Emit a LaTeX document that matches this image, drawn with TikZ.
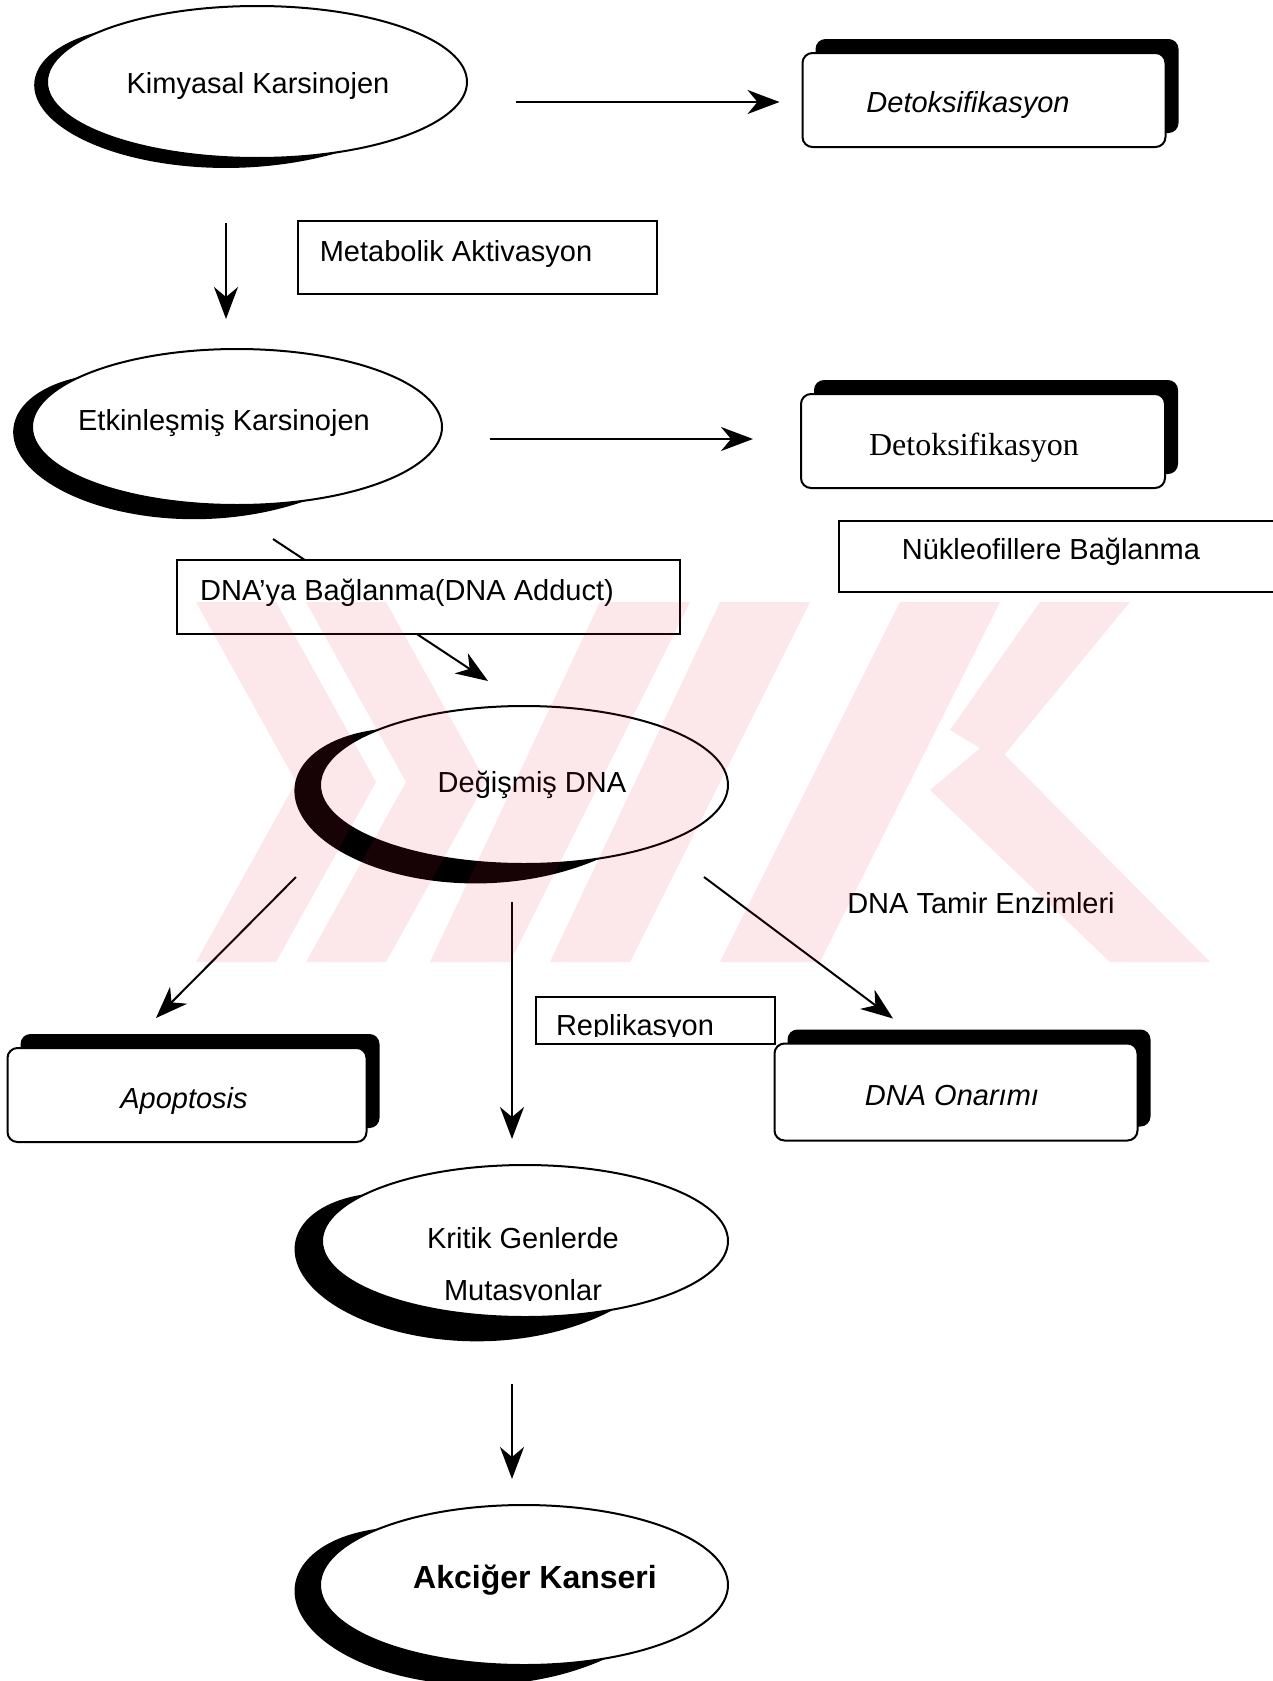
\documentclass[tikz,border=0pt]{standalone}
\usepackage{fontspec}
\setmainfont{Liberation Sans}
\newfontfamily\serifft{Liberation Serif}
\usetikzlibrary{arrows.meta,shadows,calc,shapes.geometric}
\definecolor{wmred}{RGB}{230,30,60}
\begin{document}
\begin{tikzpicture}[x=0.5pt,y=-0.5pt,
  declare function={gth(\u)=sin(\u)*(1.5-0.5*sin(\u));},
  ell/.style={draw,line width=1pt,fill=white,ellipse,inner sep=0pt},
  shbox/.style={draw,line width=1pt,fill=white,rounded corners=5pt,inner sep=0pt,
    drop shadow={shadow xshift=6.5pt,shadow yshift=7pt,fill=black,opacity=1}},
  plainbox/.style={draw,line width=0.9pt,fill=white,inner sep=0pt},
  lbl/.style={font=\fontsize{14.5}{17}\selectfont,anchor=base,inner sep=0pt},
  arr/.style={-{Stealth[length=16pt,width=12pt,inset=5pt]},line width=1pt},
  shade/.style={fill=black}]
\useasboundingbox (0,0) rectangle (1273,1681);

% ---------- ellipses (crescent shadows + white ellipses)
\fill[shade] plot[domain=66:222,samples=100,variable=\t]
  ({257+(210+15*gth((\t-66)*1.15385))*cos(\t)},
   {82+(76+15*gth((\t-66)*1.15385))*sin(\t)}) -- cycle;
\node[ell,minimum width=210pt,minimum height=76pt] (e1) at (257,82) {};
\fill[shade] plot[domain=70:220,samples=100,variable=\t]
  ({237+(205+22*gth((\t-70)*1.2))*cos(\t)},
   {427+(78+22*gth((\t-70)*1.2))*sin(\t)}) -- cycle;
\node[ell,minimum width=205pt,minimum height=78pt] (e2) at (237,427) {};
\fill[shade] plot[domain=68:225,samples=100,variable=\t]
  ({524+(204+29*gth((\t-68)*1.14650))*cos(\t)},
   {785+(79+29*gth((\t-68)*1.14650))*sin(\t)}) -- cycle;
\node[ell,minimum width=204pt,minimum height=79pt] (e3) at (524,785) {};
\fill[shade] plot[domain=64:218,samples=100,variable=\t]
  ({525+(203+33*gth((\t-64)*1.16883))*cos(\t)},
   {1241+(76+33*gth((\t-64)*1.16883))*sin(\t)}) -- cycle;
\node[ell,minimum width=203pt,minimum height=76pt] (e4) at (525,1241) {};
\fill[shade] plot[domain=66:225,samples=100,variable=\t]
  ({524+(204+29*gth((\t-66)*1.13208))*cos(\t)},
   {1585+(80+29*gth((\t-66)*1.13208))*sin(\t)}) -- cycle;
\node[ell,minimum width=204pt,minimum height=80pt] (e5) at (524,1585) {};

% ---------- shadowed boxes
\node[shbox,minimum width=181.5pt,minimum height=47pt] (d1) at (984,100) {};
\node[shbox,minimum width=182pt,minimum height=47pt] (d2) at (983,441) {};
\node[shbox,minimum width=179.5pt,minimum height=47pt] (ap) at (187,1095) {};
\node[shbox,minimum width=181.5pt,minimum height=48.5pt] (on) at (956,1092) {};

% ---------- connectors
\draw[arr] ($(e1.east)+(48,20)$) -- ($(d1.west)+(-22,2)$);
\draw[arr] ($(e1.south)+(-31,64)$) -- ($(e2.north)+(-11,-29)$);
\draw[arr] ($(e2.east)+(47,12)$) -- ($(d2.west)+(-47,-2)$);
\draw[arr] ($(e2.south)+(36,33)$) -- ($(e3.north)+(-36,-24)$);
\draw[arr] ($(e3.center)+(-228,92)$) -- ($(ap.north)+(-31,-29)$);
\draw[arr] ($(e3.south)+(-12,37)$) -- ($(e4.north)+(-13,-25)$);
\draw[arr] ($(e3.center)+(180,92)$) -- ($(on.north)+(-63,-24)$);
\draw[arr] ($(e4.south)+(-13,66)$) -- ($(e5.north)+(-12,-25)$);

% ---------- plain boxes
\node[plainbox,minimum width=179.5pt,minimum height=36.5pt] (mb) at (477.5,257.5) {};
\node[plainbox,minimum width=251.5pt,minimum height=37pt] (db) at (428.5,597) {};
\node[plainbox,minimum width=231pt,minimum height=35.5pt] (nb) at (1070,556.5) {};
\node[plainbox,minimum width=119.5pt,minimum height=23.5pt] (rb) at (655.5,1020.5) {};

% ---------- texts
\node[lbl] (t1) at (258,93) {Kimyasal Karsinojen};
\node[lbl,font=\fontsize{14.5}{17}\selectfont\itshape] (t2) at (968,112) {Detoksifikasyon};
\node[lbl] (t3) at (456,261) {Metabolik Aktivasyon};
\node[lbl] (t4) at (224,430) {Etkinleşmiş Karsinojen};
\node[lbl,font=\fontsize{16}{19}\selectfont\serifft] (t5) at (974,455) {Detoksifikasyon};
\node[lbl] (t6) at (1051,559) {Nükleofillere Bağlanma};
\node[lbl] (t7) at (407,600) {DNA’ya Bağlanma(DNA Adduct)};
\node[lbl] (t8) at (532,792) {Değişmiş DNA};
\node[lbl] (t9) at (981,913) {DNA Tamir Enzimleri};
\begin{scope}
  \clip (540,1000) rectangle (772,1036);
  \node[lbl] (t10) at (635,1035) {Replikasyon};
\end{scope}
\node[lbl,font=\fontsize{14.5}{17}\selectfont\itshape] (t11) at (184,1108) {Apoptosis};
\node[lbl,font=\fontsize{14.5}{17}\selectfont\itshape] (t12) at (952,1105) {DNA Onarımı};
\node[lbl] (t13) at (523,1248) {Kritik Genlerde};
\begin{scope}
  \clip (400,1260) rectangle (650,1300.5);
  \node[lbl] (t14) at (523,1300) {Mutasyonlar};
\end{scope}
\node[lbl,font=\fontsize{16}{19}\selectfont\bfseries] (t15) at (535,1588) {Akciğer Kanseri};

% ---------- watermark (faint overlay)
\fill[wmred,opacity=0.1]
  (196,602) -- (276,602) -- (376,782) -- (276,962) -- (196,962) -- (296,782) -- cycle
  (306,602) -- (386,602) -- (486,782) -- (386,962) -- (306,962) -- (406,782) -- cycle
  (600,602) -- (690,602) -- (510,962) -- (430,962) -- cycle
  (720,602) -- (810,602) -- (630,962) -- (550,962) -- cycle
  (900,602) -- (1000,602) -- (820,962) -- (720,962) -- cycle
  (1040,602) -- (1130,602) -- (1000,760) -- (950,730) -- cycle
  (930,790) -- (990,740) -- (1210,962) -- (1110,962) -- cycle;
\end{tikzpicture}
\end{document}
